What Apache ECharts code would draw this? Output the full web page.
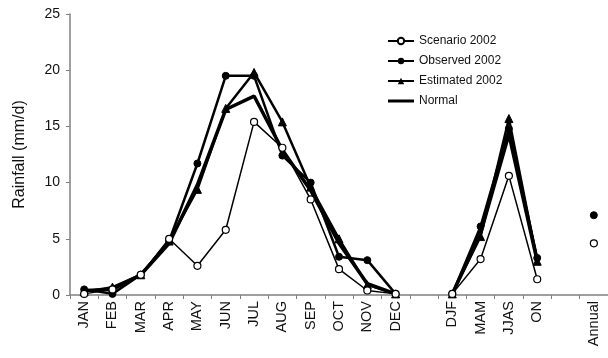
<!DOCTYPE html>
<html>
<head>
<meta charset="utf-8">
<script src="https://cdn.jsdelivr.net/npm/echarts@6/dist/echarts.min.js"></script>
<style>
  html, body { margin: 0; padding: 0; background: #fff; }
  #chart { width: 608px; height: 358px; }
</style>
</head>
<body>
<div id="chart"></div>
<script>
// Monthly, seasonal and annual rainfall (mm/d); blank slots separate the groups
const categories = ['JAN','FEB','MAR','APR','MAY','JUN','JUL','AUG','SEP','OCT','NOV','DEC','','DJF','MAM','JJAS','ON','','Annual'];
const scenario2002  = [0.1, 0.5, 1.8, 5.0, 2.6, 5.8, 15.4, 13.1, 8.5, 2.3, 0.4, 0.1, '-', 0.1, 3.2, 10.6, 1.4, '-', 4.6];
const observed2002  = [0.5, 0.1, 1.8, 4.8, 11.7, 19.5, 19.5, 12.4, 10.0, 3.4, 3.1, 0.1, '-', 0.1, 6.1, 14.8, 3.3, '-', 7.1];
const estimated2002 = [0.3, 0.7, 1.8, 4.8, 9.4, 16.6, 19.8, 15.4, 9.6, 5.0, 0.9, 0.1, '-', 0.1, 5.2, 15.7, 3.0, '-', '-'];
const normal        = [0.4, 0.5, 1.8, 4.6, 9.8, 16.5, 17.7, 12.9, 9.3, 4.6, 1.0, 0.1, '-', 0.1, 5.5, 14.3, 3.0, '-', '-'];
const yTicks = [0, 5, 10, 15, 20, 25];

const FONT = 'Liberation Sans, Arial, sans-serif';
const chart = echarts.init(document.getElementById('chart'), null, { renderer: 'canvas' });

chart.setOption({
  animation: false,
  backgroundColor: '#fff',
  textStyle: { fontFamily: FONT },
  grid: { left: 70, top: 14, bottom: 63, width: 541, containLabel: false },
  legend: {
    orient: 'vertical',
    left: 382,
    top: 29,
    itemWidth: 26,
    itemHeight: 8,
    itemGap: 6,
    textStyle: { fontFamily: FONT, fontSize: 12, color: '#111', lineHeight: 14 },
    data: [
      'Scenario 2002',
      'Observed 2002',
      'Estimated 2002',
      { name: 'Normal', icon: 'path://M0,0 L26,0 L26,3 L0,3 Z' }
    ]
  },
  xAxis: {
    type: 'category',
    data: categories,
    boundaryGap: true,
    axisLine: { lineStyle: { color: '#808080', width: 1.5 } },
    axisTick: { show: true, interval: 0, length: 4, lineStyle: { color: '#808080' } },
    axisLabel: { interval: 0, rotate: 90, fontSize: 14.5, color: '#111', margin: 6, fontFamily: FONT }
  },
  yAxis: {
    type: 'value',
    min: yTicks[0],
    max: yTicks[yTicks.length - 1],
    interval: 5,
    name: 'Rainfall (mm/d)',
    nameLocation: 'middle',
    nameGap: 42,
    nameTextStyle: { fontSize: 16, color: '#111', fontFamily: FONT },
    splitLine: { show: false },
    axisLine: { show: true, lineStyle: { color: '#808080', width: 1.5 } },
    axisTick: { show: true, length: 4, lineStyle: { color: '#808080' } },
    axisLabel: { fontSize: 14, color: '#111', margin: 10, fontFamily: FONT }
  },
  series: [
    {
      name: 'Normal',
      type: 'line',
      data: normal,
      symbol: 'none',
      lineStyle: { color: '#000', width: 3.5 },
      itemStyle: { color: '#000' },
      z: 2
    },
    {
      name: 'Estimated 2002',
      type: 'line',
      data: estimated2002,
      symbol: 'triangle',
      symbolSize: 8,
      lineStyle: { color: '#000', width: 2.5 },
      itemStyle: { color: '#000', borderColor: '#000' },
      z: 3
    },
    {
      name: 'Observed 2002',
      type: 'line',
      data: observed2002,
      symbol: 'circle',
      symbolSize: 7,
      lineStyle: { color: '#000', width: 2.5 },
      itemStyle: { color: '#000', borderColor: '#000' },
      z: 4
    },
    {
      name: 'Scenario 2002',
      type: 'line',
      data: scenario2002,
      symbol: 'circle',
      symbolSize: 7,
      lineStyle: { color: '#000', width: 1.5 },
      itemStyle: { color: '#fff', borderColor: '#000', borderWidth: 1.2 },
      z: 5
    }
  ]
});
</script>
</body>
</html>
